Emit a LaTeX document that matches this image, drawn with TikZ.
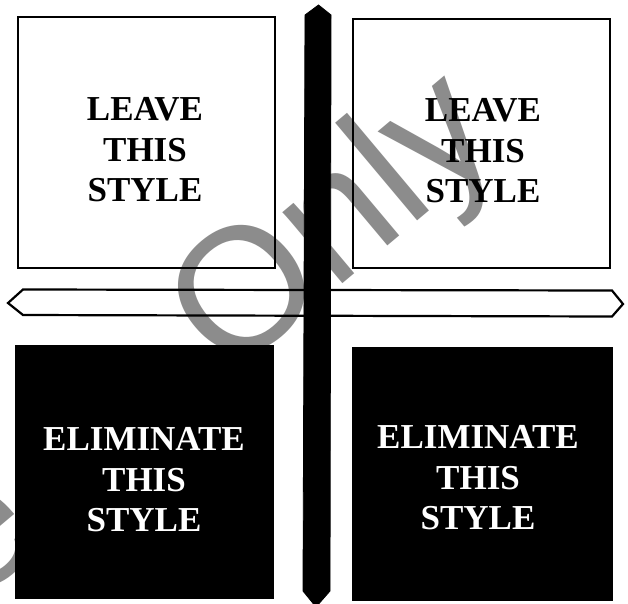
\documentclass[tikz,border=0pt]{standalone}
\usepackage{fontspec}
\setmainfont{Liberation Serif}
\newfontfamily\wmfont{Liberation Sans}
\begin{document}
\begin{tikzpicture}[x=1pt,y=-1pt,
  wbox/.style={draw=black, line width=2.5pt, fill=white},
  bbox/.style={fill=black, draw=black, line width=1pt},
  lbl/.style={font=\bfseries\fontsize{35}{40.5}\selectfont, align=center, inner sep=0pt},
  wm/.style={font=\wmfont\fontsize{176}{176}\selectfont, text=black!45, inner sep=0pt, rotate=40, anchor=base west, blend mode=multiply},
  hbar/.style={draw=black, line width=2.2pt, fill=white, line join=miter},
  vbar/.style={fill=black, draw=black, line width=0.8pt}]
\useasboundingbox (0,0) rectangle (628,603);
\clip (0,0) rectangle (628,603);
\fill[white] (0,0) rectangle (628,603);
% boxes
\path[wbox] (18,17) rectangle (275,268);
\path[wbox] (353,19) rectangle (610,268);
\path[bbox] (15,345) rectangle (273,598);
\path[bbox] (352,347) rectangle (612,600);
% horizontal bar
\path[hbar] (8,303) -- (23,289.5) -- (612,290.5) -- (623,304) -- (612,316.5) -- (23,315) -- cycle;
% vertical bar
\path[vbar] (305,15) -- (318.5,5) -- (331,15) -- (330,591) -- (316,607) -- (303,591) -- cycle;
% labels
\node[lbl] (tl) at (145,150) {LEAVE\\THIS\\STYLE};
\node[lbl] (tr) at (483,151) {LEAVE\\THIS\\STYLE};
\node[lbl, text=white] (bl) at (144,480) {ELIMINATE\\THIS\\STYLE};
\node[lbl, text=white] (br) at (478,478) {ELIMINATE\\THIS\\STYLE};
% watermark
\node[wm] (wm0) at (-27,606) {e};
\node[wm] (wm1) at (228,380) {Only};
\end{tikzpicture}
\end{document}
